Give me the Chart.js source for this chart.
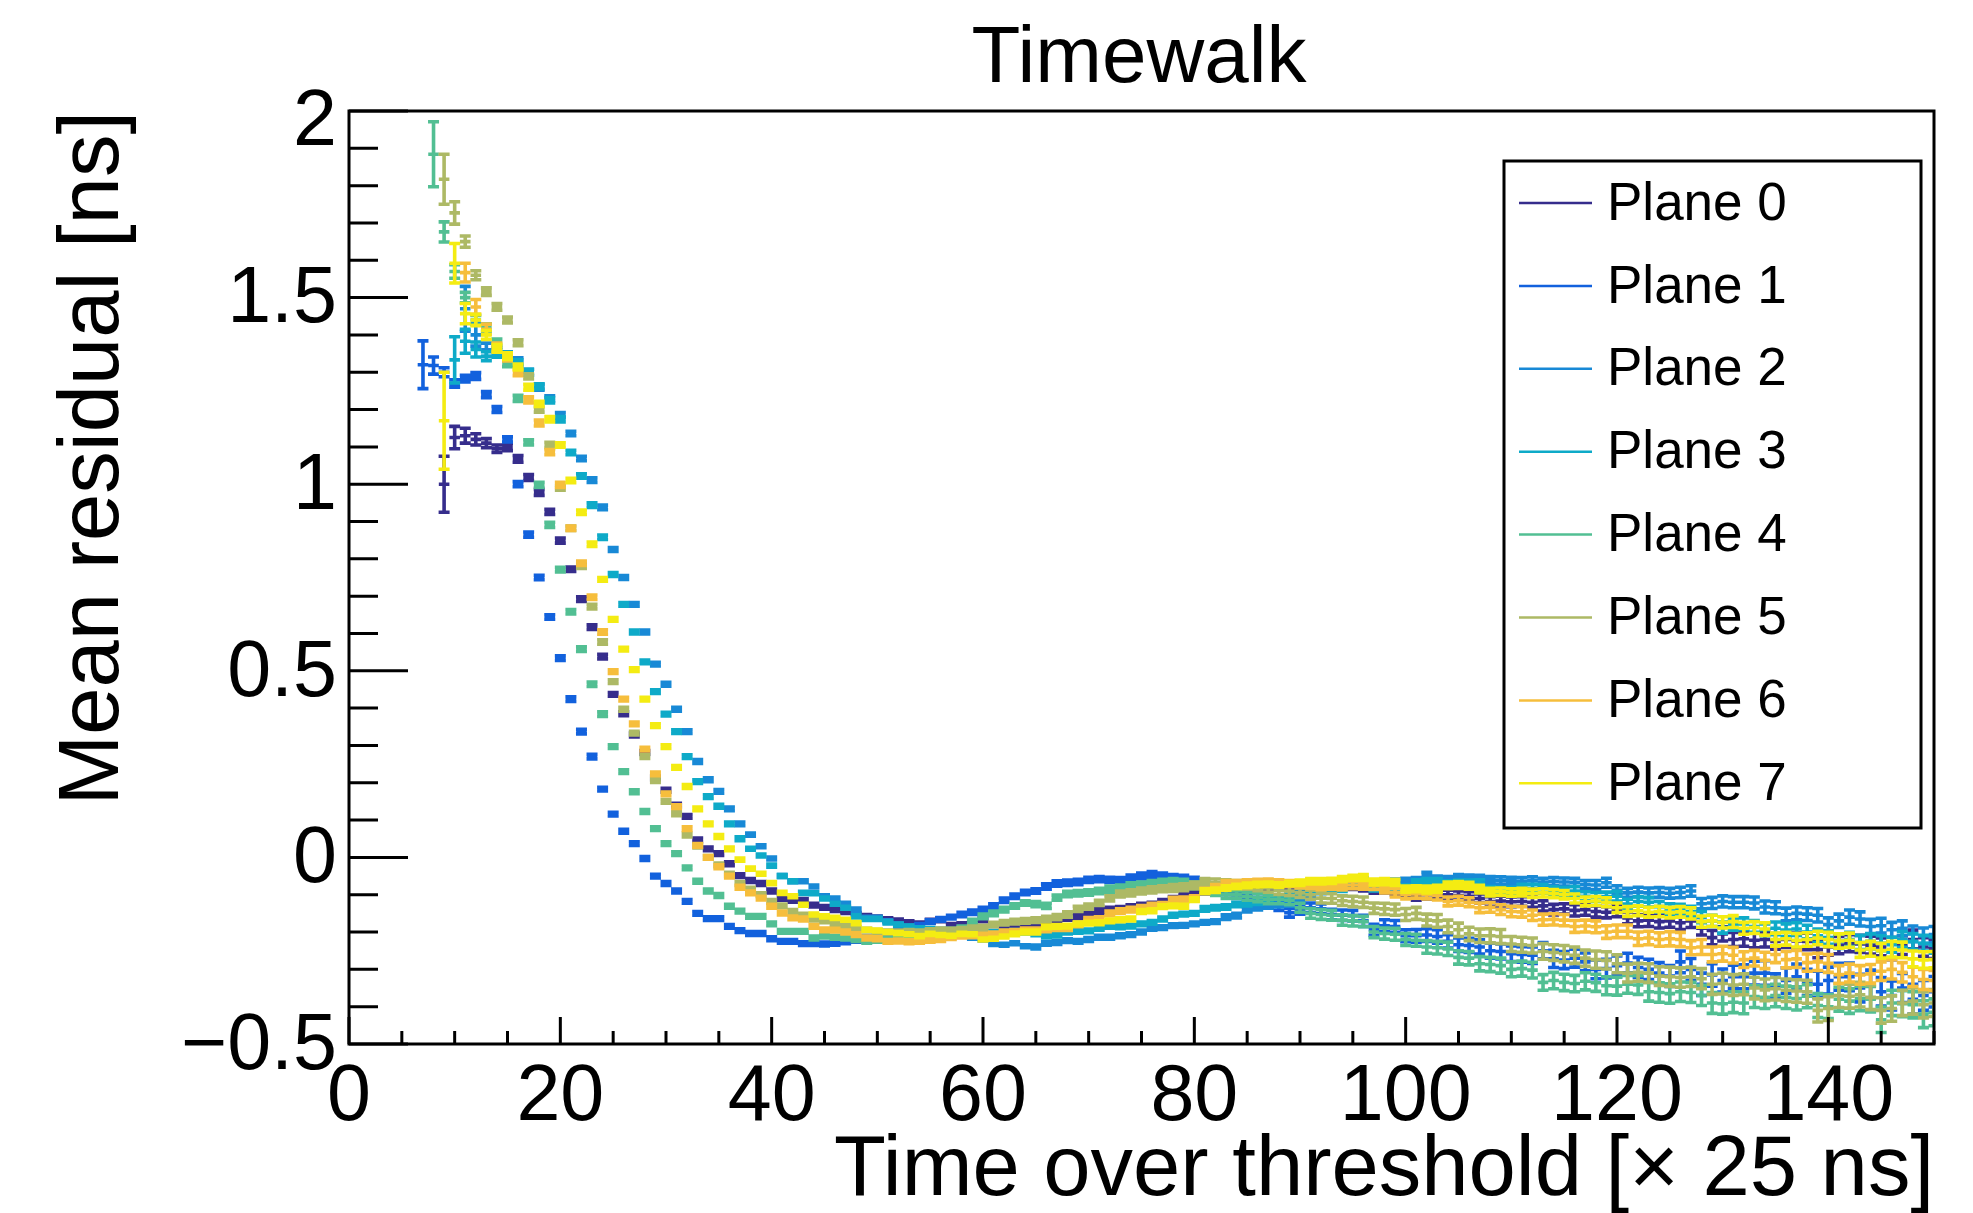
<!DOCTYPE html>
<html>
<head>
<meta charset="utf-8">
<title>Timewalk</title>
<script src="https://cdn.jsdelivr.net/npm/chart.js@4.4.1/dist/chart.umd.min.js"></script>
<style>
  html, body { margin: 0; padding: 0; background: #fff; }
  canvas { display: block; }
</style>
</head>
<body>
<canvas id="chart" width="1973" height="1213"></canvas>
<script>
// Labels and tick labels
const planeNames = ['Plane 0', 'Plane 1', 'Plane 2', 'Plane 3', 'Plane 4', 'Plane 5', 'Plane 6', 'Plane 7'];
const planeColors = ['#362d8c', '#1261dd', '#1889d6', '#0eaac8', '#52bf93', '#adb965', '#f6be3c', '#f4ec12'];
const xTickValues = [0, 20, 40, 60, 80, 100, 120, 140];
const xTickLabels = ['0', '20', '40', '60', '80', '100', '120', '140'];
const yTickValues = [-0.5, 0, 0.5, 1, 1.5, 2];
const yTickLabels = ['\u22120.5', '0', '0.5', '1', '1.5', '2'];

// First filled bin (time over threshold, x 25 ns) of every plane
const firstBin = [9, 7, 11, 10, 8, 9, 11, 9];

// Mean residual [ns], one value per bin, starting at firstBin
const plane0 = [
  1.0, 1.125, 1.13, 1.12, 1.11, 1.095, 1.10, 1.068, 1.018, 0.978,
  0.926, 0.849, 0.772, 0.692, 0.617, 0.538, 0.437, 0.385, 0.328, 0.281,
  0.213, 0.18, 0.14, 0.11, 0.047, 0.023, 0.01, -0.017, -0.049, -0.062,
  -0.07, -0.09, -0.11, -0.115, -0.115, -0.128, -0.134, -0.14, -0.145, -0.153,
  -0.158, -0.162, -0.167, -0.17, -0.175, -0.178, -0.171, -0.167, -0.182, -0.18,
  -0.178, -0.167, -0.18, -0.185, -0.183, -0.185, -0.176, -0.172, -0.168, -0.162,
  -0.158, -0.153, -0.144, -0.14, -0.138, -0.133, -0.13, -0.127, -0.12, -0.112,
  -0.104, -0.098, -0.091, -0.09, -0.088, -0.086, -0.084, -0.083, -0.08, -0.078,
  -0.08, -0.082, -0.078, -0.075, -0.072, -0.074, -0.076, -0.08, -0.086, -0.085,
  -0.09, -0.093, -0.104, -0.1, -0.098, -0.1, -0.102, -0.104, -0.11, -0.118,
  -0.117, -0.119, -0.118, -0.12, -0.13, -0.14, -0.138, -0.142, -0.14, -0.145,
  -0.147, -0.143, -0.162, -0.17, -0.168, -0.172, -0.17, -0.175, -0.17, -0.19,
  -0.215, -0.205, -0.22, -0.218, -0.222, -0.22, -0.225, -0.22, -0.224, -0.225,
  -0.247, -0.24, -0.235, -0.23, -0.232, -0.235, -0.24, -0.25, -0.235, -0.22,
  -0.24, -0.245
];
const plane1 = [
  1.32, 1.318, 1.30, 1.27, 1.283, 1.29, 1.24, 1.20, 1.12, 1.00,
  0.865, 0.75, 0.644, 0.534, 0.424, 0.337, 0.27, 0.183, 0.116, 0.07,
  0.037, -0.003, -0.05, -0.07, -0.09, -0.118, -0.15, -0.164, -0.164, -0.185,
  -0.196, -0.204, -0.204, -0.218, -0.225, -0.225, -0.231, -0.231, -0.232, -0.23,
  -0.226, -0.222, -0.216, -0.21, -0.203, -0.196, -0.19, -0.182, -0.172, -0.166,
  -0.16, -0.153, -0.147, -0.14, -0.13, -0.115, -0.104, -0.094, -0.09, -0.078,
  -0.07, -0.068, -0.066, -0.06, -0.058, -0.06, -0.062, -0.055, -0.05, -0.046,
  -0.05, -0.055, -0.057, -0.062, -0.07, -0.08, -0.09, -0.1, -0.112, -0.118,
  -0.125, -0.13, -0.148, -0.14, -0.135, -0.138, -0.153, -0.155, -0.156, -0.17,
  -0.194, -0.183, -0.185, -0.21, -0.21, -0.208, -0.212, -0.225, -0.234, -0.236,
  -0.24, -0.25, -0.252, -0.258, -0.26, -0.262, -0.25, -0.272, -0.275, -0.27,
  -0.28, -0.30, -0.298, -0.29, -0.283, -0.295, -0.30, -0.31, -0.318, -0.28,
  -0.30, -0.34, -0.315, -0.33, -0.32, -0.32, -0.31, -0.31, -0.345, -0.33,
  -0.32, -0.335, -0.34, -0.33, -0.32, -0.32, -0.35, -0.34, -0.36, -0.37,
  -0.35, -0.38, -0.37, -0.36
];
const plane2 = [
  1.47, 1.40, 1.36, 1.355, 1.345, 1.33, 1.30, 1.26, 1.23, 1.185,
  1.136, 1.069, 1.011, 0.938, 0.825, 0.75, 0.678, 0.604, 0.518, 0.464,
  0.397, 0.337, 0.257, 0.208, 0.177, 0.13, 0.09, 0.061, 0.03, -0.003,
  -0.05, -0.064, -0.064, -0.078, -0.104, -0.11, -0.124, -0.14, -0.162, -0.162,
  -0.171, -0.18, -0.185, -0.194, -0.196, -0.194, -0.2, -0.21, -0.215, -0.22,
  -0.232, -0.234, -0.23, -0.238, -0.24, -0.23, -0.228, -0.223, -0.225, -0.22,
  -0.214, -0.214, -0.21, -0.207, -0.2, -0.19, -0.188, -0.183, -0.182, -0.178,
  -0.174, -0.172, -0.16, -0.156, -0.14, -0.135, -0.13, -0.127, -0.125, -0.11,
  -0.1, -0.09, -0.08, -0.066, -0.064, -0.062, -0.068, -0.07, -0.066, -0.064,
  -0.062, -0.048, -0.058, -0.06, -0.055, -0.056, -0.057, -0.06, -0.062, -0.063,
  -0.064, -0.062, -0.066, -0.065, -0.066, -0.067, -0.073, -0.074, -0.068, -0.088,
  -0.095, -0.093, -0.095, -0.094, -0.096, -0.094, -0.09, -0.124, -0.122, -0.118,
  -0.12, -0.12, -0.122, -0.133, -0.135, -0.153, -0.15, -0.152, -0.155, -0.18,
  -0.17, -0.16, -0.165, -0.185, -0.183, -0.194, -0.19, -0.205, -0.21, -0.207
];
const plane3 = [
  1.333, 1.383, 1.361, 1.343, 1.35, 1.345, 1.325, 1.30, 1.262, 1.225,
  1.174, 1.085, 1.022, 0.944, 0.858, 0.758, 0.678, 0.604, 0.524, 0.444,
  0.384, 0.337, 0.27, 0.203, 0.163, 0.137, 0.09, 0.05, 0.023, 0.005,
  -0.022, -0.05, -0.064, -0.095, -0.096, -0.11, -0.124, -0.135, -0.158, -0.165,
  -0.165, -0.174, -0.18, -0.185, -0.19, -0.192, -0.196, -0.195, -0.198, -0.2,
  -0.205, -0.2, -0.2, -0.198, -0.2, -0.205, -0.21, -0.208, -0.2, -0.198,
  -0.197, -0.19, -0.185, -0.186, -0.184, -0.178, -0.174, -0.165, -0.155, -0.152,
  -0.15, -0.138, -0.135, -0.133, -0.126, -0.124, -0.12, -0.112, -0.106, -0.104,
  -0.1, -0.09, -0.087, -0.085, -0.084, -0.066, -0.075, -0.082, -0.08, -0.084,
  -0.082, -0.068, -0.066, -0.066, -0.072, -0.07, -0.07, -0.07, -0.088, -0.09,
  -0.09, -0.082, -0.083, -0.084, -0.09, -0.092, -0.09, -0.104, -0.106, -0.105,
  -0.104, -0.125, -0.118, -0.12, -0.132, -0.138, -0.14, -0.145, -0.16, -0.17,
  -0.188, -0.18, -0.178, -0.185, -0.194, -0.19, -0.195, -0.192, -0.2, -0.21,
  -0.215, -0.225, -0.22, -0.228, -0.225, -0.23, -0.234, -0.22, -0.225, -0.23,
  -0.235
];
const plane4 = [
  1.884, 1.676, 1.57, 1.50, 1.44, 1.42, 1.38, 1.323, 1.23, 1.112,
  0.998, 0.891, 0.771, 0.658, 0.558, 0.464, 0.384, 0.297, 0.23, 0.176,
  0.123, 0.077, 0.037, 0.01, -0.028, -0.064, -0.09, -0.102, -0.131, -0.144,
  -0.158, -0.158, -0.178, -0.198, -0.198, -0.198, -0.216, -0.211, -0.214, -0.216,
  -0.22, -0.225, -0.222, -0.22, -0.218, -0.213, -0.21, -0.205, -0.2, -0.196,
  -0.19, -0.172, -0.158, -0.15, -0.14, -0.13, -0.122, -0.125, -0.13, -0.108,
  -0.098, -0.096, -0.094, -0.09, -0.085, -0.082, -0.076, -0.074, -0.07, -0.068,
  -0.066, -0.068, -0.075, -0.087, -0.092, -0.1, -0.1, -0.104, -0.108, -0.113,
  -0.112, -0.115, -0.135, -0.15, -0.153, -0.155, -0.168, -0.17, -0.172, -0.2,
  -0.204, -0.206, -0.22, -0.222, -0.24, -0.242, -0.245, -0.268, -0.27, -0.285,
  -0.287, -0.29, -0.3, -0.298, -0.302, -0.335, -0.33, -0.335, -0.338, -0.332,
  -0.336, -0.344, -0.345, -0.34, -0.342, -0.36, -0.362, -0.365, -0.36, -0.362,
  -0.37, -0.39, -0.392, -0.388, -0.39, -0.373, -0.375, -0.37, -0.375, -0.378,
  -0.372, -0.397, -0.4, -0.38, -0.385, -0.378, -0.38, -0.435, -0.39, -0.392,
  -0.395, -0.42, -0.415
];
const plane5 = [
  1.817, 1.727, 1.65, 1.56, 1.516, 1.475, 1.44, 1.379, 1.289, 1.2,
  1.105, 0.99, 0.882, 0.78, 0.672, 0.577, 0.471, 0.397, 0.333, 0.27,
  0.206, 0.15, 0.117, 0.06, 0.03, 0.0, -0.02, -0.045, -0.07, -0.085,
  -0.1, -0.118, -0.13, -0.145, -0.155, -0.165, -0.17, -0.18, -0.185, -0.19,
  -0.195, -0.198, -0.2, -0.2, -0.198, -0.2, -0.196, -0.194, -0.195, -0.194,
  -0.19, -0.188, -0.18, -0.175, -0.172, -0.17, -0.168, -0.165, -0.16, -0.153,
  -0.138, -0.132, -0.122, -0.11, -0.098, -0.095, -0.09, -0.087, -0.084, -0.082,
  -0.08, -0.075, -0.066, -0.068, -0.07, -0.072, -0.075, -0.078, -0.082, -0.088,
  -0.09, -0.095, -0.1, -0.109, -0.11, -0.116, -0.118, -0.12, -0.136, -0.138,
  -0.14, -0.153, -0.15, -0.168, -0.17, -0.185, -0.194, -0.205, -0.21, -0.21,
  -0.212, -0.232, -0.234, -0.236, -0.252, -0.255, -0.258, -0.262, -0.27, -0.274,
  -0.276, -0.285, -0.31, -0.308, -0.31, -0.318, -0.32, -0.322, -0.32, -0.325,
  -0.34, -0.338, -0.342, -0.34, -0.35, -0.355, -0.352, -0.356, -0.358, -0.36,
  -0.41, -0.405, -0.37, -0.372, -0.368, -0.375, -0.41, -0.405, -0.39, -0.385,
  -0.395, -0.39
];
const plane6 = [
  1.567, 1.475, 1.415, 1.367, 1.34, 1.30, 1.226, 1.164, 1.086, 0.998,
  0.882, 0.788, 0.697, 0.604, 0.498, 0.424, 0.358, 0.29, 0.224, 0.17,
  0.136, 0.077, 0.032, 0.0, -0.025, -0.05, -0.08, -0.095, -0.109, -0.131,
  -0.149, -0.162, -0.165, -0.185, -0.194, -0.195, -0.2, -0.207, -0.216, -0.218,
  -0.225, -0.224, -0.226, -0.225, -0.222, -0.22, -0.215, -0.211, -0.21, -0.208,
  -0.205, -0.2, -0.198, -0.194, -0.195, -0.193, -0.19, -0.19, -0.18, -0.167,
  -0.165, -0.15, -0.144, -0.14, -0.135, -0.13, -0.128, -0.114, -0.113, -0.11,
  -0.09, -0.08, -0.069, -0.07, -0.068, -0.067, -0.066, -0.068, -0.07, -0.072,
  -0.074, -0.078, -0.076, -0.078, -0.074, -0.075, -0.076, -0.085, -0.095, -0.1,
  -0.098, -0.1, -0.102, -0.118, -0.116, -0.12, -0.135, -0.134, -0.14, -0.145,
  -0.146, -0.155, -0.167, -0.166, -0.168, -0.185, -0.184, -0.186, -0.2, -0.198,
  -0.198, -0.218, -0.216, -0.22, -0.218, -0.22, -0.242, -0.24, -0.26, -0.258,
  -0.262, -0.274, -0.27, -0.276, -0.26, -0.274, -0.272, -0.282, -0.28, -0.284,
  -0.314, -0.31, -0.315, -0.312, -0.305, -0.3, -0.308, -0.32, -0.327, -0.33
];
const plane7 = [
  1.17, 1.592, 1.457, 1.44, 1.40, 1.364, 1.343, 1.314, 1.26, 1.215,
  1.174, 1.105, 1.01, 0.925, 0.839, 0.745, 0.638, 0.558, 0.503, 0.424,
  0.353, 0.297, 0.241, 0.19, 0.13, 0.09, 0.056, 0.023, -0.006, -0.03,
  -0.044, -0.069, -0.095, -0.104, -0.127, -0.153, -0.158, -0.162, -0.167, -0.176,
  -0.194, -0.196, -0.2, -0.203, -0.206, -0.211, -0.205, -0.208, -0.21, -0.205,
  -0.206, -0.22, -0.218, -0.212, -0.205, -0.2, -0.2, -0.186, -0.185, -0.184,
  -0.178, -0.176, -0.175, -0.17, -0.167, -0.165, -0.145, -0.143, -0.132, -0.13,
  -0.131, -0.113, -0.09, -0.088, -0.082, -0.078, -0.075, -0.073, -0.072, -0.074,
  -0.07, -0.068, -0.064, -0.064, -0.063, -0.058, -0.055, -0.054, -0.066, -0.065,
  -0.067, -0.085, -0.084, -0.086, -0.084, -0.075, -0.074, -0.076, -0.085, -0.093,
  -0.092, -0.094, -0.093, -0.096, -0.095, -0.097, -0.1, -0.11, -0.118, -0.117,
  -0.12, -0.135, -0.145, -0.143, -0.147, -0.145, -0.148, -0.146, -0.15, -0.172,
  -0.17, -0.174, -0.172, -0.19, -0.188, -0.192, -0.22, -0.218, -0.222, -0.22,
  -0.216, -0.22, -0.224, -0.222, -0.248, -0.245, -0.25, -0.246, -0.248, -0.272,
  -0.275, -0.274
];

// Statistical error of every bin, in units of 0.001 ns, same order
const err0 = [
  75, 30, 20, 15, 12, 10, 10, 9, 8, 8,
  7, 7, 6, 6, 6, 6, 5, 5, 5, 5,
  5, 5, 5, 5, 5, 5, 5, 5, 5, 5,
  5, 5, 5, 5, 5, 5, 5, 5, 5, 5,
  5, 5, 5, 5, 5, 5, 5, 5, 5, 5,
  5, 5, 5, 6, 6, 6, 6, 6, 6, 6,
  6, 6, 6, 6, 6, 6, 7, 7, 7, 7,
  7, 7, 7, 7, 8, 8, 8, 8, 8, 8,
  8, 9, 9, 9, 9, 9, 10, 10, 10, 10,
  10, 11, 11, 11, 11, 12, 12, 12, 12, 13,
  13, 13, 13, 14, 14, 14, 14, 15, 15, 15,
  15, 16, 16, 16, 17, 17, 17, 18, 18, 18,
  19, 19, 19, 20, 20, 20, 21, 21, 21, 22,
  22, 22, 23, 23, 23, 24, 24, 24, 25, 25,
  25, 26
];
const err1 = [
  64, 23, 12, 10, 9, 9, 8, 8, 7, 7,
  7, 6, 6, 6, 6, 6, 6, 5, 5, 5,
  5, 5, 5, 5, 5, 5, 5, 5, 5, 5,
  5, 5, 5, 5, 5, 5, 5, 5, 5, 5,
  5, 5, 5, 5, 5, 5, 5, 5, 5, 5,
  5, 6, 6, 6, 6, 6, 6, 6, 6, 7,
  7, 7, 7, 7, 7, 7, 8, 8, 8, 8,
  8, 9, 9, 9, 9, 10, 10, 10, 11, 11,
  11, 12, 12, 12, 13, 13, 14, 14, 14, 15,
  15, 16, 16, 16, 17, 17, 18, 18, 18, 19,
  19, 20, 20, 21, 21, 22, 22, 23, 23, 24,
  24, 25, 25, 26, 26, 27, 27, 28, 28, 29,
  29, 30, 30, 31, 31, 32, 32, 33, 33, 34,
  34, 35, 35, 36, 36, 37, 37, 38, 38, 39,
  39, 40, 40, 41
];
const err2 = [
  60, 30, 18, 12, 10, 9, 8, 8, 7, 7,
  6, 6, 6, 6, 5, 5, 5, 5, 5, 5,
  5, 5, 5, 5, 5, 5, 5, 4, 4, 4,
  4, 4, 4, 4, 4, 4, 4, 4, 4, 4,
  4, 4, 4, 4, 4, 4, 4, 4, 4, 4,
  4, 4, 4, 4, 5, 5, 5, 5, 5, 5,
  5, 5, 5, 5, 5, 5, 5, 5, 5, 5,
  5, 5, 6, 6, 6, 6, 6, 6, 6, 6,
  6, 7, 7, 7, 7, 7, 7, 8, 8, 8,
  8, 8, 8, 9, 9, 9, 9, 9, 10, 10,
  10, 10, 10, 11, 11, 11, 11, 12, 12, 12,
  12, 13, 13, 13, 13, 14, 14, 14, 15, 15,
  15, 15, 16, 16, 16, 17, 17, 17, 18, 18,
  18, 19, 19, 19, 20, 20, 20, 21, 21, 22
];
const err3 = [
  62, 32, 20, 12, 10, 9, 8, 8, 7, 7,
  7, 6, 6, 6, 6, 5, 5, 5, 5, 5,
  5, 5, 5, 5, 5, 5, 5, 5, 4, 4,
  4, 4, 4, 4, 4, 4, 4, 4, 4, 4,
  4, 4, 4, 4, 4, 4, 4, 4, 4, 4,
  4, 4, 4, 5, 5, 5, 5, 5, 5, 5,
  5, 5, 5, 5, 5, 5, 5, 5, 5, 5,
  5, 6, 6, 6, 6, 6, 6, 6, 6, 6,
  7, 7, 7, 7, 7, 7, 8, 8, 8, 8,
  8, 8, 9, 9, 9, 9, 9, 10, 10, 10,
  10, 10, 11, 11, 11, 11, 12, 12, 12, 12,
  13, 13, 13, 13, 14, 14, 14, 14, 15, 15,
  15, 15, 16, 16, 16, 17, 17, 17, 18, 18,
  18, 19, 19, 19, 20, 20, 20, 21, 21, 21,
  22
];
const err4 = [
  87, 27, 18, 14, 12, 10, 9, 8, 8, 7,
  7, 7, 6, 6, 6, 6, 6, 5, 5, 5,
  5, 5, 5, 5, 5, 5, 5, 5, 5, 5,
  5, 5, 5, 5, 5, 5, 5, 5, 5, 5,
  5, 5, 5, 5, 5, 5, 5, 5, 5, 6,
  6, 6, 6, 6, 6, 6, 6, 7, 7, 7,
  7, 7, 7, 7, 8, 8, 8, 8, 8, 9,
  9, 9, 9, 10, 10, 10, 10, 11, 11, 11,
  12, 12, 12, 13, 13, 13, 14, 14, 14, 15,
  15, 16, 16, 16, 17, 17, 18, 18, 18, 19,
  19, 20, 20, 20, 21, 21, 22, 22, 22, 23,
  23, 24, 24, 24, 25, 25, 26, 26, 26, 27,
  27, 28, 28, 28, 29, 29, 30, 30, 30, 31,
  31, 32, 32, 32, 33, 33, 34, 34, 34, 35,
  35, 36, 36
];
const err5 = [
  67, 30, 15, 12, 10, 9, 8, 8, 7, 7,
  7, 6, 6, 6, 6, 6, 5, 5, 5, 5,
  5, 5, 5, 5, 5, 5, 5, 5, 5, 5,
  5, 5, 5, 5, 5, 5, 5, 5, 5, 5,
  5, 5, 5, 5, 5, 5, 5, 5, 5, 6,
  6, 6, 6, 6, 6, 6, 6, 7, 7, 7,
  7, 7, 7, 7, 8, 8, 8, 8, 8, 9,
  9, 9, 9, 10, 10, 10, 10, 11, 11, 11,
  12, 12, 12, 13, 13, 13, 14, 14, 14, 15,
  15, 16, 16, 16, 17, 17, 18, 18, 18, 19,
  19, 20, 20, 20, 21, 21, 22, 22, 22, 23,
  23, 24, 24, 24, 25, 25, 26, 26, 26, 27,
  27, 28, 28, 28, 29, 29, 30, 30, 30, 31,
  31, 32, 32, 32, 33, 33, 34, 34, 34, 35,
  35, 36
];
const err6 = [
  25, 20, 14, 11, 10, 9, 8, 8, 7, 7,
  6, 6, 6, 6, 5, 5, 5, 5, 5, 5,
  5, 5, 5, 5, 5, 5, 5, 5, 5, 5,
  5, 5, 5, 5, 5, 5, 5, 5, 5, 5,
  5, 5, 5, 5, 5, 5, 5, 5, 5, 5,
  5, 5, 5, 5, 6, 6, 6, 6, 6, 6,
  6, 6, 6, 6, 6, 7, 7, 7, 7, 7,
  7, 7, 7, 8, 8, 8, 8, 8, 8, 9,
  9, 9, 9, 9, 10, 10, 10, 10, 11, 11,
  11, 11, 12, 12, 12, 12, 13, 13, 13, 14,
  14, 14, 15, 15, 15, 16, 16, 16, 17, 17,
  17, 18, 18, 18, 19, 19, 19, 20, 20, 20,
  21, 21, 21, 22, 22, 22, 23, 23, 23, 24,
  24, 24, 25, 25, 25, 26, 26, 26, 27, 27
];
const err7 = [
  130, 53, 27, 15, 12, 10, 9, 8, 8, 7,
  7, 6, 6, 6, 6, 5, 5, 5, 5, 5,
  5, 5, 5, 5, 5, 5, 5, 5, 4, 4,
  4, 4, 4, 4, 4, 4, 4, 4, 4, 4,
  4, 4, 4, 4, 4, 4, 4, 4, 4, 4,
  4, 4, 4, 4, 5, 5, 5, 5, 5, 5,
  5, 5, 5, 5, 5, 5, 5, 5, 5, 5,
  5, 5, 6, 6, 6, 6, 6, 6, 6, 6,
  6, 7, 7, 7, 7, 7, 7, 8, 8, 8,
  8, 8, 8, 9, 9, 9, 9, 9, 10, 10,
  10, 10, 10, 11, 11, 11, 11, 12, 12, 12,
  12, 13, 13, 13, 13, 14, 14, 14, 15, 15,
  15, 15, 16, 16, 16, 17, 17, 17, 18, 18,
  18, 19, 19, 19, 20, 20, 20, 21, 21, 21,
  22, 22
];

const planeValues = [plane0, plane1, plane2, plane3, plane4, plane5, plane6, plane7];
const planeErrors = [err0, err1, err2, err3, err4, err5, err6, err7];

// Build the datasets: one point per bin (bin centre, mean, error)
const datasets = planeValues.map((values, p) => ({
  label: planeNames[p],
  borderColor: planeColors[p],
  backgroundColor: planeColors[p],
  showLine: false,
  pointRadius: 0,
  pointHoverRadius: 0,
  data: values.map((v, i) => ({ x: firstBin[p] + i, y: v, e: (planeErrors[p][i] || 0) / 1000 }))
}));

const FONT = '"Liberation Sans", Arial, Helvetica, sans-serif';

// Draws the ROOT-like error bars, frame, ticks, labels, titles and legend
const rootStyle = {
  id: 'rootStyle',
  afterDatasetsDraw(chart) {
    const { ctx, chartArea: a } = chart;
    const xs = chart.scales.x;
    const ys = chart.scales.y;

    // error bars: bin width horizontally, error with end caps vertically
    ctx.save();
    ctx.beginPath();
    ctx.rect(a.left, a.top, a.right - a.left, a.bottom - a.top);
    ctx.clip();
    ctx.lineWidth = 3.6;
    ctx.lineCap = 'butt';
    chart.data.datasets.forEach((ds, di) => {
      const meta = chart.getDatasetMeta(di);
      ctx.strokeStyle = ds.borderColor;
      ctx.beginPath();
      ds.data.forEach((pt, i) => {
        const el = meta.data[i];
        const cx = el.x, cy = el.y;
        const xl = xs.getPixelForValue(pt.x - 0.5);
        const xr = xs.getPixelForValue(pt.x + 0.5);
        const yt = ys.getPixelForValue(pt.y + pt.e);
        const yb = ys.getPixelForValue(pt.y - pt.e);
        ctx.moveTo(xl, cy); ctx.lineTo(xr, cy);
        ctx.moveTo(cx, yt - 1.8); ctx.lineTo(cx, yb + 1.8);
        ctx.moveTo(cx - 5.5, yt); ctx.lineTo(cx + 5.5, yt);
        ctx.moveTo(cx - 5.5, yb); ctx.lineTo(cx + 5.5, yb);
      });
      ctx.stroke();
    });
    ctx.restore();

    ctx.save();
    ctx.strokeStyle = '#000';
    ctx.fillStyle = '#000';
    ctx.lineWidth = 3;

    // frame
    ctx.strokeRect(a.left, a.top, a.right - a.left, a.bottom - a.top);

    // y ticks (inward, minor every 0.1)
    ctx.beginPath();
    for (let k = -5; k <= 20; k++) {
      const py = ys.getPixelForValue(k / 10);
      const len = k % 5 === 0 ? 59 : 29;
      ctx.moveTo(a.left, py); ctx.lineTo(a.left + len, py);
    }
    // x ticks (inward, minor every 5)
    for (let k = 0; k <= 30; k++) {
      const px = xs.getPixelForValue(k * 5);
      const len = k % 4 === 0 ? 27 : 13;
      ctx.moveTo(px, a.bottom); ctx.lineTo(px, a.bottom - len);
    }
    ctx.stroke();

    // tick labels (the top one sits a little lower, as in the original)
    ctx.font = '79px ' + FONT;
    ctx.textAlign = 'right';
    ctx.textBaseline = 'middle';
    yTickValues.forEach((v, i) => {
      const shift = i === yTickValues.length - 1 ? 12 : 3;
      ctx.fillText(yTickLabels[i], a.left - 12, ys.getPixelForValue(v) + shift);
    });
    ctx.textAlign = 'center';
    ctx.textBaseline = 'alphabetic';
    xTickValues.forEach((v, i) => {
      ctx.fillText(xTickLabels[i], xs.getPixelForValue(v), a.bottom + 76);
    });

    // titles
    ctx.font = '80px ' + FONT;
    ctx.textAlign = 'center';
    ctx.fillText('Timewalk', 1139, 82);

    ctx.font = '85px ' + FONT;
    ctx.textAlign = 'right';
    ctx.fillText('Time over threshold [\u00d7 25 ns]', a.right, 1195);

    ctx.save();
    ctx.translate(118, a.top);
    ctx.rotate(-Math.PI / 2);
    ctx.textAlign = 'right';
    ctx.fillText('Mean residual [ns]', 0, 0);
    ctx.restore();

    // legend
    const lx = 1504, ly = 161, lw = 417, lh = 667;
    ctx.fillStyle = '#fff';
    ctx.fillRect(lx, ly, lw, lh);
    ctx.strokeStyle = '#000';
    ctx.lineWidth = 3;
    ctx.strokeRect(lx, ly, lw, lh);
    ctx.font = '53px ' + FONT;
    ctx.textAlign = 'left';
    ctx.textBaseline = 'middle';
    chart.data.datasets.forEach((ds, i) => {
      const ey = 203 + i * 82.9;
      ctx.strokeStyle = ds.borderColor;
      ctx.lineWidth = 2.5;
      ctx.beginPath();
      ctx.moveTo(1519, ey); ctx.lineTo(1592, ey);
      ctx.stroke();
      ctx.fillStyle = '#000';
      ctx.fillText(ds.label, 1607, ey + 2);
    });
    ctx.restore();
  }
};

new Chart(document.getElementById('chart'), {
  type: 'scatter',
  data: { datasets: datasets },
  options: {
    responsive: false,
    animation: false,
    devicePixelRatio: 1,
    layout: { padding: { left: 349, right: 39, top: 111, bottom: 169 } },
    scales: {
      x: { type: 'linear', min: 0, max: 150, display: false },
      y: { type: 'linear', min: -0.5, max: 2, display: false }
    },
    plugins: {
      legend: { display: false },
      tooltip: { enabled: false },
      title: { display: false }
    }
  },
  plugins: [rootStyle]
});
</script>
</body>
</html>
